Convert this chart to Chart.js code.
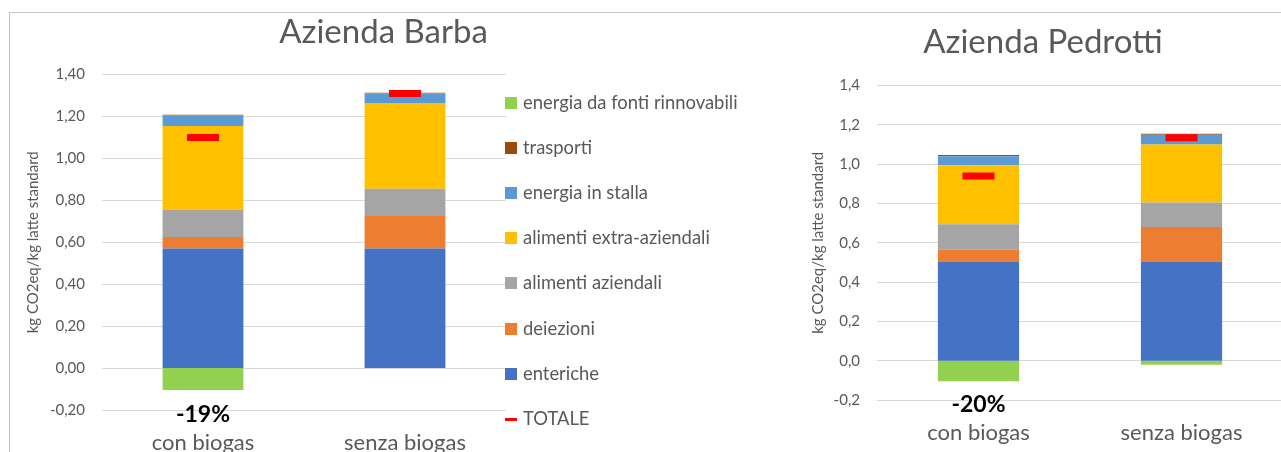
<!DOCTYPE html>
<html>
<head>
<meta charset="utf-8">
<script src="https://cdn.jsdelivr.net/npm/chart.js@4.4.1/dist/chart.umd.min.js"></script>
<style>
  body { margin: 0; width: 1281px; height: 452px; overflow: hidden; background: #fff; font-family: Lato, sans-serif; }
  .frame { position: absolute; left: 9px; top: 12px; width: 1300px; height: 460px; border-top: 1px solid #c4c4c4; border-left: 1px solid #c4c4c4; }
  #barba { position: absolute; left: 10px; top: 13px; }
  #pedrotti { position: absolute; left: 760px; top: 13px; }
  #legend { position: absolute; left: 505px; top: 0; color: #595959; font-size: 18.4px; }
  .item { position: absolute; left: 0; white-space: nowrap; height: 20px; line-height: 20px; }
  .box { position: absolute; left: 0; top: 4px; width: 12px; height: 12px; }
  .dash { position: absolute; left: 0; top: 9px; width: 12px; height: 3px; }
  .item span.t { position: absolute; left: 18px; top: -1px; }
</style>
</head>
<body>
<div class="frame"></div>
<canvas id="barba" width="747" height="439"></canvas>
<canvas id="pedrotti" width="566" height="439"></canvas>
<div id="legend"></div>
<script>
// categories and series names
const categories = ['con biogas', 'senza biogas'];
const seriesNames = ['enteriche', 'deiezioni', 'alimenti aziendali', 'alimenti extra-aziendali', 'energia in stalla', 'trasporti', 'energia da fonti rinnovabili'];
const seriesColors = ['#4472C4', '#ED7D31', '#A5A5A5', '#FFC000', '#5B9BD5', '#9E480E', '#92D050'];
const totalName = 'TOTALE';
const totalColor = '#FF0000';

// Azienda Barba (kg CO2eq/kg latte standard)
const barbaEnteriche = [0.57, 0.57];
const barbaDeiezioni = [0.055, 0.155];
const barbaAlimAziendali = [0.13, 0.13];
const barbaAlimExtra = [0.40, 0.41];
const barbaEnergiaStalla = [0.05, 0.045];
const barbaTrasporti = [0.004, 0.004];
const barbaRinnovabili = [-0.105, 0];
const barbaTotale = [1.10, 1.31];
const barbaRiduzione = '-19%';

// Azienda Pedrotti
const pedrottiEnteriche = [0.505, 0.505];
const pedrottiDeiezioni = [0.06, 0.175];
const pedrottiAlimAziendali = [0.13, 0.125];
const pedrottiAlimExtra = [0.30, 0.295];
const pedrottiEnergiaStalla = [0.045, 0.05];
const pedrottiTrasporti = [0.007, 0.005];
const pedrottiRinnovabili = [-0.105, -0.02];
const pedrottiTotale = [0.94, 1.135];
const pedrottiRiduzione = '-20%';

const yTicksBarba = { min: -0.2, max: 1.4, step: 0.2, decimals: 2 };
const yTicksPedrotti = { min: -0.2, max: 1.4, step: 0.2, decimals: 1 };
const yTitle = 'kg CO2eq/kg latte standard';

Chart.defaults.font.family = 'Lato, sans-serif';
Chart.defaults.color = '#595959';

// draws the bold percentage under the first bar
const pctLabel = {
  id: 'pctLabel',
  afterDraw(chart, args, opts) {
    const ctx = chart.ctx;
    const x = chart.scales.x.getPixelForValue(0);
    ctx.save();
    ctx.font = 'bold 23px Lato, sans-serif';
    ctx.fillStyle = '#000';
    ctx.textAlign = 'center';
    ctx.textBaseline = 'middle';
    ctx.fillText(opts.text, x, chart.chartArea.bottom + opts.offset);
    ctx.restore();
  }
};

function makeChart(id, series, totals, ticks, title, layout) {
  const datasets = series.map((vals, i) => ({
    type: 'bar',
    label: seriesNames[i],
    data: vals,
    backgroundColor: seriesColors[i],
    categoryPercentage: 1,
    barPercentage: 0.4
  }));
  datasets.push({
    type: 'line',
    label: totalName,
    data: totals,
    showLine: false,
    pointStyle: 'line',
    pointRadius: 16,
    pointHoverRadius: 16,
    pointBorderWidth: 7,
    pointBorderColor: totalColor,
    borderColor: totalColor,
    order: -1
  });

  return new Chart(document.getElementById(id), {
    data: { labels: categories, datasets: datasets },
    plugins: [pctLabel],
    options: {
      responsive: false,
      animation: false,
      plugins: {
        legend: { display: false },
        tooltip: { enabled: false },
        title: {
          display: true,
          text: title,
          color: '#595959',
          font: { size: 33, weight: 'normal' },
          padding: { top: layout.titleTop, bottom: layout.titleBottom }
        },
        pctLabel: { text: layout.pct, offset: layout.pctOffset }
      },
      scales: {
        x: {
          stacked: true,
          grid: { display: false },
          border: { display: false },
          ticks: { font: { size: 22 }, color: '#595959', padding: layout.xPad },
          afterFit: s => { s.height = layout.xHeight; }
        },
        y: {
          stacked: true,
          min: ticks.min,
          max: ticks.max,
          border: { display: false },
          grid: { color: '#D9D9D9', drawTicks: false },
          ticks: {
            stepSize: ticks.step,
            padding: 17,
            color: '#595959',
            font: { size: 15 },
            callback: v => (Math.abs(v) < 1e-9 ? 0 : v).toFixed(ticks.decimals).replace('.', ',')
          },
          title: {
            display: true,
            text: yTitle,
            color: '#595959',
            font: { size: 15 },
            padding: { top: layout.yTitlePad, bottom: 0 }
          },
          afterFit: s => { s.width = layout.yWidth; }
        },
        // empty space on the right (legend area of the original), keeps the title centred on the whole chart
        side: {
          type: 'linear',
          position: 'right',
          grid: { display: false },
          border: { display: false },
          ticks: { display: false },
          afterFit: s => { s.width = layout.padRight; }
        }
      }
    }
  });
}

makeChart('barba',
  [barbaEnteriche, barbaDeiezioni, barbaAlimAziendali, barbaAlimExtra, barbaEnergiaStalla, barbaTrasporti, barbaRinnovabili],
  barbaTotale, yTicksBarba, 'Azienda Barba',
  { padRight: 251, titleTop: 0, titleBottom: 22, xHeight: 42, xPad: 12, yWidth: 92, yTitlePad: 14, pct: barbaRiduzione, pctOffset: 5 });

makeChart('pedrotti',
  [pedrottiEnteriche, pedrottiDeiezioni, pedrottiAlimAziendali, pedrottiAlimExtra, pedrottiEnergiaStalla, pedrottiTrasporti, pedrottiRinnovabili],
  pedrottiTotale, yTicksPedrotti, 'Azienda Pedrotti',
  { padRight: 43, titleTop: 10, titleBottom: 23, xHeight: 52, xPad: 12, yWidth: 117, yTitlePad: 49, pct: pedrottiRiduzione, pctOffset: 5 });

// legend, top to bottom as in the original
const legendEl = document.getElementById('legend');
const legendRows = [];
for (let i = seriesNames.length - 1; i >= 0; i--) legendRows.push({ name: seriesNames[i], color: seriesColors[i], dash: false });
legendRows.push({ name: totalName, color: totalColor, dash: true });
legendRows.forEach((row, i) => {
  const div = document.createElement('div');
  div.className = 'item';
  div.style.top = (93 + i * 45.1) + 'px';
  div.innerHTML = '<div class="' + (row.dash ? 'dash' : 'box') + '" style="background:' + row.color + '"></div><span class="t">' + row.name + '</span>';
  legendEl.appendChild(div);
});
</script>
</body>
</html>
